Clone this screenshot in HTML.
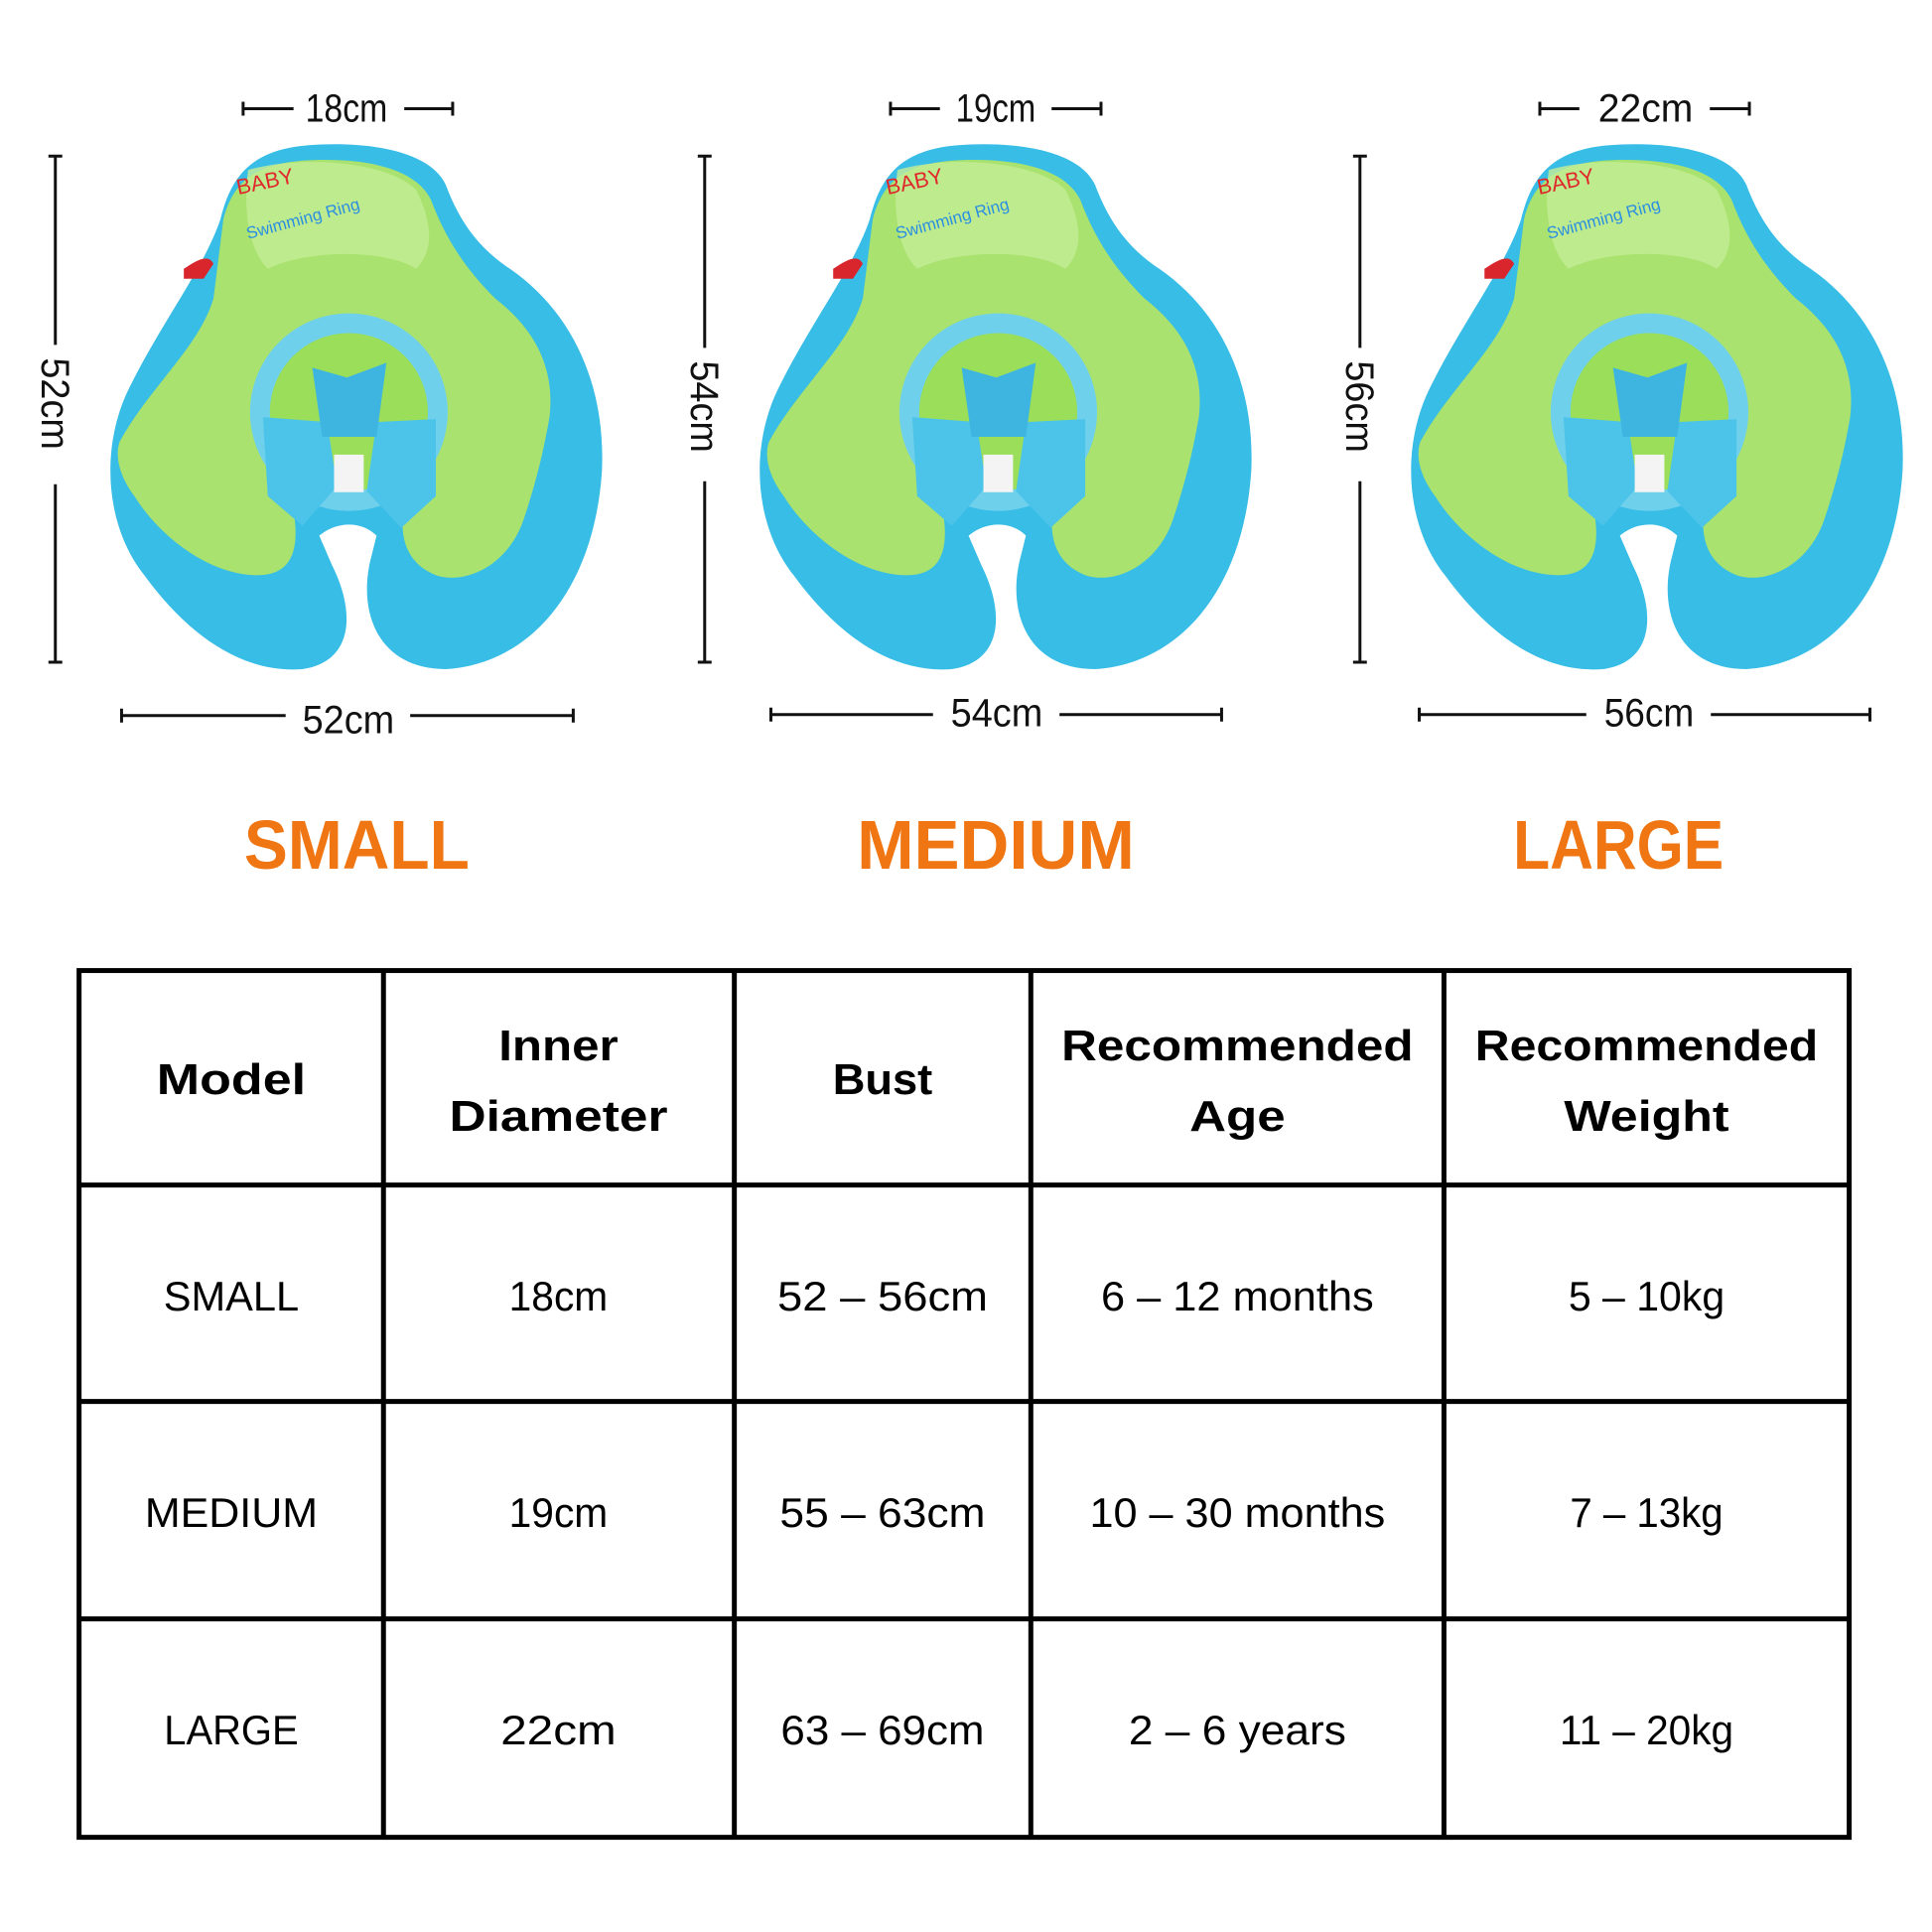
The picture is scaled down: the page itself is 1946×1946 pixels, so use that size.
<!DOCTYPE html>
<html><head><meta charset="utf-8"><style>
html,body{margin:0;padding:0;background:#fff;}
svg{display:block;}
</style></head><body>
<svg width="1946" height="1946" viewBox="0 0 1946 1946" xmlns="http://www.w3.org/2000/svg">
<defs>
<g id="ring">
  <path d="M40 250 C10 310 15 390 55 440 C95 495 150 540 215 535 C265 528 270 480 245 430 L232 400 C250 385 275 385 290 400 L285 420 C270 475 290 535 360 535 C445 530 510 455 518 335 C522 250 490 175 425 130 C395 110 375 85 360 45 C345 12 285 0 220 5 C160 10 142 40 132 80 C115 130 75 180 40 250 Z" fill="#38bde6"/>
  <path d="M30 305 C60 250 110 210 125 160 L135 80 C145 40 170 22 225 20 C285 18 330 30 345 60 C360 100 380 130 410 160 C455 195 470 235 465 280 C458 320 450 350 440 380 C425 430 380 450 350 440 C320 428 310 400 320 360 L335 280 C300 250 220 250 190 280 L205 370 C215 420 200 440 170 440 C120 440 70 400 45 360 C30 340 25 320 30 305 Z" fill="#a9e26e"/>
  <path d="M160 30 C210 15 300 20 330 50 C345 80 350 110 330 130 C300 110 220 110 180 130 C160 110 155 70 160 30 Z" fill="#c4ee97" opacity="0.8"/>
  <circle cx="262" cy="275" r="100" fill="#6fd0ec"/>
  <circle cx="262" cy="275" r="80" fill="#9ade5a"/>
  <path d="M175 280 L240 285 L250 350 L215 390 L180 360 Z" fill="#4cc4ea"/>
  <path d="M290 285 L350 282 L350 360 L315 392 L280 355 Z" fill="#4cc4ea"/>
  <path d="M225 230 L260 240 L300 225 L290 300 L235 300 Z" fill="#3eb5e0"/>
  <rect x="247" y="318" width="30" height="38" fill="#f4f4f4"/>
  <path d="M95 130 C110 120 120 115 125 125 L115 140 L95 140 Z" fill="#d8262c"/>
  <text x="150" y="55" font-family="Liberation Sans, sans-serif" font-size="22" fill="#e0282c" transform="rotate(-12 150 55)">BABY</text>
  <text x="160" y="100" font-family="Liberation Sans, sans-serif" font-size="17" fill="#2a8fe0" transform="rotate(-15 160 100)">Swimming Ring</text>
</g>
</defs>
<g transform="scale(0.9955)">
<g transform="translate(91,142)"><use href="#ring"/></g>
<g transform="translate(748,142)"><use href="#ring"/></g>
<g transform="translate(1407,142)"><use href="#ring"/></g>

<g stroke="#111" stroke-width="3" fill="none">
  <path d="M246 110H297M246 103V117M409 110H458M458 103V117"/>
  <path d="M901 110H951M901 103V117M1064 110H1114M1114 103V117"/>
  <path d="M1558 110H1598M1558 103V117M1730 110H1770M1770 103V117"/>
  <path d="M123 724H289M123 717V731M415 724H580M580 717V731"/>
  <path d="M780 723H944M780 716V730M1072 723H1236M1236 716V730"/>
  <path d="M1436 723H1605M1436 716V730M1731 723H1892M1892 716V730"/>
  <path d="M56 158V349M49 158H63M56 490V670M49 670H63"/>
  <path d="M713 158V352M706 158H720M713 487V670M706 670H720"/>
  <path d="M1376 158V352M1369 158H1383M1376 487V670M1369 670H1383"/>
</g>

<g font-family="Liberation Sans, sans-serif" font-size="40" fill="#111">
  <text x="309" y="123" textLength="83" lengthAdjust="spacingAndGlyphs">18cm</text>
  <text x="967" y="123" textLength="81" lengthAdjust="spacingAndGlyphs">19cm</text>
  <text x="1617" y="123" textLength="96" lengthAdjust="spacingAndGlyphs">22cm</text>
  <text x="306" y="742" textLength="93" lengthAdjust="spacingAndGlyphs">52cm</text>
  <text x="962" y="735" textLength="93" lengthAdjust="spacingAndGlyphs">54cm</text>
  <text x="1623" y="735" textLength="91" lengthAdjust="spacingAndGlyphs">56cm</text>
  <text transform="translate(42,362) rotate(90)" textLength="93" lengthAdjust="spacingAndGlyphs">52cm</text>
  <text transform="translate(699,365) rotate(90)" textLength="93" lengthAdjust="spacingAndGlyphs">54cm</text>
  <text transform="translate(1362,365) rotate(90)" textLength="93" lengthAdjust="spacingAndGlyphs">56cm</text>
</g>

<g font-family="Liberation Sans, sans-serif" font-weight="bold" font-size="70" fill="#ef7612">
  <text x="247" y="879" textLength="228" lengthAdjust="spacingAndGlyphs">SMALL</text>
  <text x="867" y="879" textLength="281" lengthAdjust="spacingAndGlyphs">MEDIUM</text>
  <text x="1531" y="879" textLength="213" lengthAdjust="spacingAndGlyphs">LARGE</text>
</g>

<g stroke="#000" stroke-width="5" fill="none">
  <rect x="80" y="982" width="1791" height="877"/>
  <path d="M80 1199H1871M80 1418H1871M80 1638H1871"/>
  <path d="M388 982V1859M743 982V1859M1043 982V1859M1461 982V1859"/>
</g>
<g font-family="Liberation Sans, sans-serif" font-weight="bold" font-size="44" fill="#000" text-anchor="middle">
  <text x="234" y="1107" textLength="151" lengthAdjust="spacingAndGlyphs">Model</text>
  <text x="565" y="1073" textLength="121" lengthAdjust="spacingAndGlyphs">Inner</text>
  <text x="565" y="1144" textLength="221" lengthAdjust="spacingAndGlyphs">Diameter</text>
  <text x="893" y="1107" textLength="101" lengthAdjust="spacingAndGlyphs">Bust</text>
  <text x="1252" y="1073" textLength="356" lengthAdjust="spacingAndGlyphs">Recommended</text>
  <text x="1252" y="1144" textLength="97" lengthAdjust="spacingAndGlyphs">Age</text>
  <text x="1666" y="1073" textLength="347" lengthAdjust="spacingAndGlyphs">Recommended</text>
  <text x="1666" y="1144" textLength="167" lengthAdjust="spacingAndGlyphs">Weight</text>
</g>
<g font-family="Liberation Sans, sans-serif" font-size="42" fill="#000" text-anchor="middle">
  <text x="234" y="1326" textLength="137" lengthAdjust="spacingAndGlyphs">SMALL</text>
  <text x="565" y="1326" textLength="100" lengthAdjust="spacingAndGlyphs">18cm</text>
  <text x="893" y="1326" textLength="213" lengthAdjust="spacingAndGlyphs">52 – 56cm</text>
  <text x="1252" y="1326" textLength="276" lengthAdjust="spacingAndGlyphs">6 – 12 months</text>
  <text x="1666" y="1326" textLength="158" lengthAdjust="spacingAndGlyphs">5 – 10kg</text>

  <text x="234" y="1545" textLength="175" lengthAdjust="spacingAndGlyphs">MEDIUM</text>
  <text x="565" y="1545" textLength="100" lengthAdjust="spacingAndGlyphs">19cm</text>
  <text x="893" y="1545" textLength="208" lengthAdjust="spacingAndGlyphs">55 – 63cm</text>
  <text x="1252" y="1545" textLength="299" lengthAdjust="spacingAndGlyphs">10 – 30 months</text>
  <text x="1666" y="1545" textLength="155" lengthAdjust="spacingAndGlyphs">7 – 13kg</text>

  <text x="234" y="1765" textLength="136" lengthAdjust="spacingAndGlyphs">LARGE</text>
  <text x="565" y="1765" textLength="117" lengthAdjust="spacingAndGlyphs">22cm</text>
  <text x="893" y="1765" textLength="206" lengthAdjust="spacingAndGlyphs">63 – 69cm</text>
  <text x="1252" y="1765" textLength="220" lengthAdjust="spacingAndGlyphs">2 – 6 years</text>
  <text x="1666" y="1765" textLength="176" lengthAdjust="spacingAndGlyphs">11 – 20kg</text>
</g>
</g>
</svg>
</body></html>
